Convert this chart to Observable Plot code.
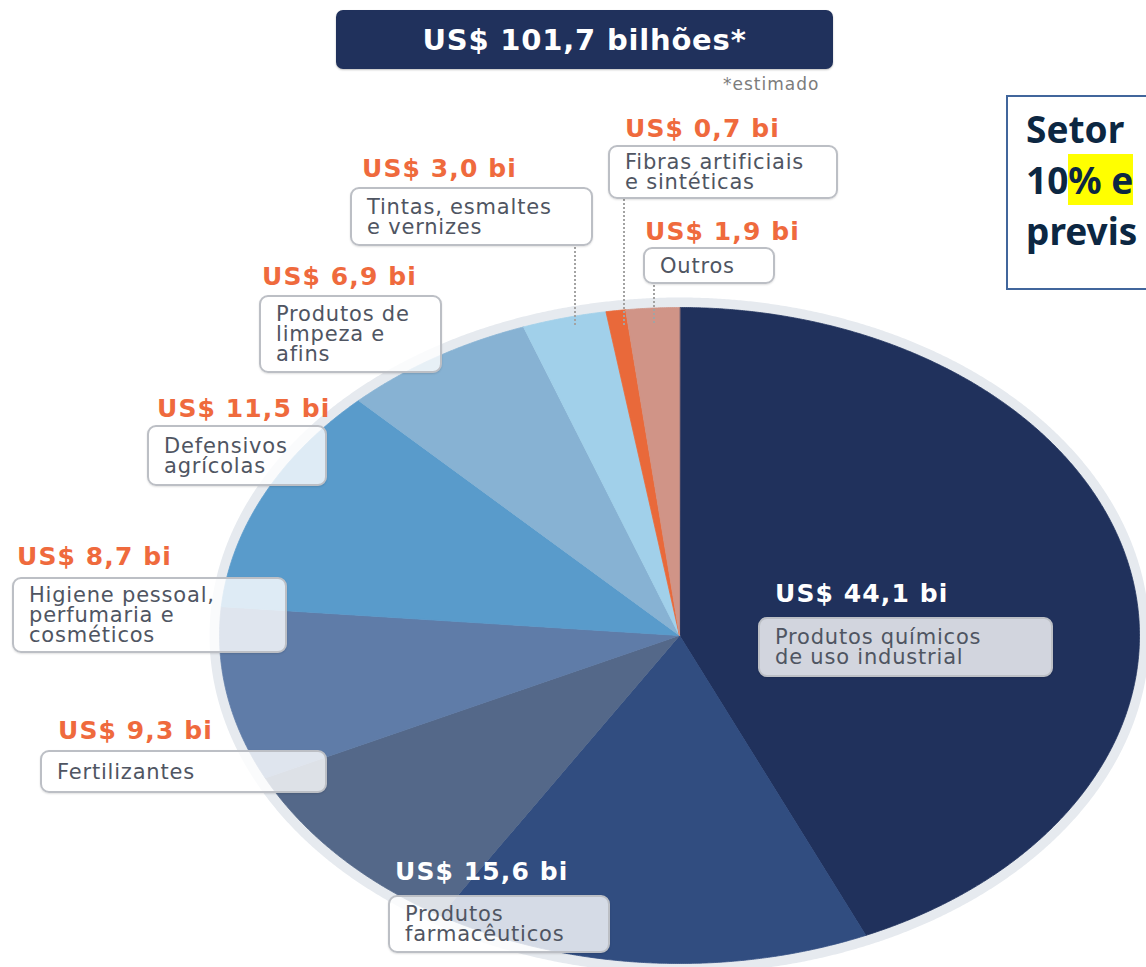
<!DOCTYPE html>
<html><head><meta charset="utf-8">
<script src="https://cdn.jsdelivr.net/npm/d3@7"></script>
<script src="https://cdn.jsdelivr.net/npm/@observablehq/plot@0.6"></script>
<style>
html,body{margin:0;padding:0;background:#fff;overflow:hidden}
#wrap{position:relative;width:1146px;height:967px;overflow:hidden;font-family:"DejaVu Sans",sans-serif}
#chart{position:absolute;left:0;top:0}
.title{position:absolute;left:336px;top:10px;width:497px;height:59px;background:#20315c;border-radius:7px;color:#fff;font-weight:bold;font-size:29px;letter-spacing:0.8px;display:flex;align-items:center;justify-content:center;box-shadow:0 1px 2px rgba(0,0,0,.25)}
.note{position:absolute;left:723px;top:74px;font-size:17px;letter-spacing:1px;color:#7c7c7c}
.val{position:absolute;font-weight:bold;font-size:25px;letter-spacing:1.1px;line-height:24px;color:#ef6a3d;white-space:nowrap}
.val.in{color:#fff}
.box{position:absolute;box-sizing:border-box;background:rgba(255,255,255,0.8);border:2px solid #bcbfc5;border-radius:9px;display:flex;align-items:center;padding-left:15px;font-size:21px;line-height:20px;letter-spacing:0.8px;color:#4f5562;white-space:pre;box-shadow:0 1px 2px rgba(0,0,0,.12)}
.lead{position:absolute;width:0;border-left:2px dotted #a3a3a3}
.side{position:absolute;left:1006px;top:95px;width:320px;height:195px;box-sizing:border-box;border:2px solid #41669c;background:#fff;padding:6px 0 0 18px;font-family:"Noto Sans",sans-serif;font-weight:700;font-size:37px;line-height:51px;color:#0c2742;white-space:nowrap}
.side .hl{background:#ffff00}
</style></head>
<body><div id="wrap"></div>
<script>
// ---- data ----
const categorias = ["Produtos químicos de uso industrial","Produtos farmacêuticos","Fertilizantes","Higiene pessoal, perfumaria e cosméticos","Defensivos agrícolas","Produtos de limpeza e afins","Tintas, esmaltes e vernizes","Fibras artificiais e sintéticas","Outros"];
const valores = [44.1, 15.6, 9.3, 8.7, 11.5, 6.9, 3.0, 0.7, 1.9];
const cores = ["#20315c","#314d80","#546889","#5f7ca8","#599bcb","#87b2d3","#a1d0ea","#e9693a","#d09487"];
const linhas = [["Produtos químicos","de uso industrial"],["Produtos","farmacêuticos"],["Fertilizantes"],["Higiene pessoal,","perfumaria e","cosméticos"],["Defensivos","agrícolas"],["Produtos de","limpeza e","afins"],["Tintas, esmaltes","e vernizes"],["Fibras artificiais","e sintéticas"],["Outros"]];
// ---- annotation layout (pixels) ----
const layout = [
  {vx:775, vy:582, bx:758, by:617, bw:295, bh:60, inside:true},
  {vx:395, vy:860, bx:388, by:895, bw:222, bh:58, inside:true},
  {vx:58,  vy:719, bx:40,  by:750, bw:287, bh:43},
  {vx:17,  vy:545, bx:12,  by:577, bw:275, bh:76},
  {vx:157, vy:397, bx:147, by:425, bw:180, bh:61},
  {vx:262, vy:265, bx:259, by:295, bw:183, bh:78},
  {vx:362, vy:157, bx:350, by:187, bw:243, bh:59, lead:[574,247,325]},
  {vx:625, vy:117, bx:608, by:145, bw:230, bh:54, lead:[623,199,325]},
  {vx:645, vy:220, bx:643, by:247, bw:132, bh:37, lead:[653,285,323]}
];

const fmt = v => d3.format(".1f")(v).replace(".", ",");
const dados = categorias.map((c,i) => ({cat:c, valor:valores[i]}));
const total = d3.sum(valores);

const arcs = d3.pie().sort(null).value(d => d.valor)(dados);
const pts = [];
arcs.forEach(a => {
  const n = Math.max(4, Math.ceil((a.endAngle - a.startAngle) / (Math.PI / 720)));
  pts.push({cat:a.data.cat, x:0, y:0});
  for (let i = 0; i <= n; i++) {
    const t = a.startAngle + (a.endAngle - a.startAngle) * i / n;
    pts.push({cat:a.data.cat, x:Math.sin(t), y:Math.cos(t)});
  }
});
const contorno = d3.range(0, 1441).map(i => { const t = i / 1440 * 2 * Math.PI; return {x:Math.sin(t), y:Math.cos(t)}; });

const chart = Plot.plot({
  width:1146, height:967, margin:0,
  x:{domain:[-1,1], range:[219,1139], axis:null},
  y:{domain:[-1,1], range:[963,307], axis:null},
  color:{domain:categorias, range:cores},
  marks:[
    Plot.line(contorno, {x:"x", y:"y", stroke:"#e6eaef", strokeWidth:20, curve:"linear-closed"}),
    Plot.line(pts, {x:"x", y:"y", z:"cat", fill:"cat", stroke:"cat", strokeWidth:0.8, curve:"linear-closed"})
  ]
});
chart.id = "chart";
const wrap = document.getElementById("wrap");
wrap.appendChild(chart);

const add = (cls, html, css) => { const d = document.createElement("div"); d.className = cls; d.innerHTML = html; Object.assign(d.style, css||{}); wrap.appendChild(d); return d; };
add("title", "US$ " + fmt(total) + " bilhões*");
add("note", "*estimado");
categorias.forEach((c,i) => {
  const L = layout[i];
  if (L.lead) add("lead", "", {left:L.lead[0]+"px", top:L.lead[1]+"px", height:(L.lead[2]-L.lead[1])+"px"});
  add("val" + (L.inside ? " in" : ""), "US$ " + fmt(valores[i]) + " bi", {left:L.vx+"px", top:L.vy+"px"});
  add("box", linhas[i].join("\n"), {left:L.bx+"px", top:L.by+"px", width:L.bw+"px", height:L.bh+"px"});
});
add("side", "Setor<br>10<span class='hl'>% e</span><br>previs");
</script></body></html>
